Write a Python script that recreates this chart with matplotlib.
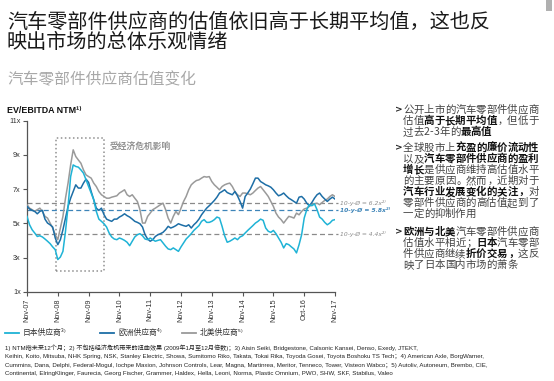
import matplotlib
matplotlib.use("Agg")
import matplotlib.pyplot as plt
from matplotlib.patches import Rectangle
from matplotlib.lines import Line2D
from matplotlib import font_manager

W, H = 554, 381
CJK = ['Noto Sans CJK SC', 'DejaVu Sans']
avail = {f.name for f in font_manager.fontManager.ttflist}
NARROW = 'Liberation Sans Narrow' if 'Liberation Sans Narrow' in avail else 'Liberation Sans'
plt.rcParams['font.family'] = ['Liberation Sans', 'Noto Sans CJK SC', 'DejaVu Sans']

# ---------------- data (monthly, Nov-07 .. Nov-17) ----------------
x_tick_labels = ["Nov-07", "Nov-08", "Nov-09", "Nov-10", "Nov-11", "Nov-12",
                 "Nov-13", "Nov-14", "Nov-15", "Oct-16", "Nov-17"]
y_ticks = [1, 3, 5, 7, 9, 11]

japan = [5.41, 4.92, 4.63, 4.44, 4.24, 4.28, 4.21, 4.09, 3.96, 3.82, 3.63, 3.47, 2.89, 3.04, 3.37,
         4.54, 5.99, 7.73, 8.41, 8.32, 8.28, 8.12, 7.93, 7.54, 7.15, 6.77, 6.38, 5.70, 5.25, 5.12,
         4.98, 4.79, 4.44, 4.21, 4.09, 4.05, 4.15, 4.09, 4.01, 3.90, 3.70, 3.96, 4.21, 4.34, 4.40,
         4.28, 4.09, 4.05, 4.15, 4.05, 3.96, 4.01, 4.05, 3.86, 3.67, 3.51, 3.47, 3.57, 3.47, 3.37,
         3.63, 3.86, 4.09, 4.24, 4.40, 4.59, 4.73, 4.87, 5.12, 5.22, 5.06, 5.06, 5.12, 5.22, 5.37,
         5.31, 4.83, 4.28, 3.90, 3.96, 4.05, 4.15, 4.05, 4.21, 4.28, 4.44, 4.59, 4.73, 4.87, 5.02,
         5.12, 5.25, 5.18, 4.73, 4.54, 4.48, 4.59, 4.40, 4.15, 3.90, 3.57, 3.82, 3.76, 3.63, 3.51,
         3.28, 3.76, 4.34, 5.31, 5.80, 6.09, 6.03, 6.14, 5.80, 5.37, 5.25, 5.06, 4.92, 5.02, 5.18,
         5.22]
europe = [5.99, 5.84, 5.76, 5.70, 5.56, 5.70, 5.76, 5.25, 5.02, 4.92, 4.79, 4.15, 3.76, 4.05, 4.63,
          5.31, 5.99, 6.47, 6.86, 7.25, 7.06, 7.06, 7.35, 7.58, 7.39, 6.86, 6.38, 5.89, 5.76, 5.89,
          5.51, 5.25, 5.18, 5.12, 5.25, 5.25, 5.37, 5.45, 5.56, 5.45, 5.37, 5.25, 5.12, 5.06, 4.98,
          4.79, 4.34, 4.09, 3.96, 4.05, 4.24, 4.34, 4.40, 4.48, 4.63, 4.83, 4.73, 4.79, 4.87, 4.98,
          4.92, 4.87, 4.83, 4.92, 4.73, 4.92, 5.06, 5.25, 5.50, 5.70, 5.89, 6.03, 6.18, 6.34, 6.53,
          6.77, 6.86, 6.96, 6.80, 6.73, 6.67, 6.86, 6.61, 6.28, 5.89, 6.57, 6.77, 7.00, 7.31, 7.64,
          7.64, 7.44, 7.35, 7.25, 7.19, 7.11, 6.96, 6.77, 6.61, 6.67, 6.77, 6.61, 6.47, 6.38, 6.28,
          6.18, 6.53, 6.57, 6.42, 6.18, 6.03, 6.22, 6.47, 6.67, 6.77, 6.57, 6.42, 6.28, 6.42, 6.53,
          6.42]
namerica = [6.09, 5.89, 5.80, 5.70, 5.80, 5.89, 5.70, 5.41, 5.31, 5.02, 4.73, 4.34, 4.05, 4.73, 5.41,
            6.47, 7.35, 8.41, 9.29, 8.90, 8.70, 8.51, 8.12, 7.83, 7.73, 7.64, 7.35, 7.15, 6.86, 6.67,
            6.57, 6.47, 6.47, 6.53, 6.57, 6.61, 6.77, 6.86, 6.96, 6.67, 6.57, 6.67, 6.47, 6.28, 5.80,
            5.02, 5.02, 5.41, 5.60, 5.80, 5.89, 5.99, 6.09, 6.18, 5.80, 5.31, 5.02, 5.41, 5.70, 5.51,
            5.89, 6.28, 6.57, 6.96, 7.25, 7.39, 7.50, 7.54, 7.64, 7.73, 7.70, 7.73, 7.44, 7.25, 7.11,
            6.96, 7.15, 7.25, 7.31, 7.35, 7.15, 6.86, 6.67, 6.57, 6.77, 6.77, 6.73, 6.67, 6.77, 6.92,
            7.06, 7.15, 6.96, 6.77, 6.57, 6.28, 5.99, 5.60, 5.37, 5.22, 5.02, 5.22, 5.41, 5.37, 5.31,
            5.60, 5.50, 5.70, 5.84, 5.89, 5.99, 6.09, 6.14, 6.18, 6.09, 6.22, 6.34, 6.42, 6.57, 6.67,
            6.57]
avg_values = [6.2, 5.8, 4.4]
avg_labels = ["10-y-Ø = 6.2x²⁾", "10-y-Ø = 5.8x²⁾", "10-y-Ø = 4.4x²⁾"]
series_names = ["日本供应商³⁾", "欧洲供应商⁴⁾", "北美供应商⁵⁾"]
crisis_start, crisis_end = 11.2, 30.0
crisis_low, crisis_high = 2.2, 10.0

C_JP = '#1fb3d6'
C_EU = '#1d6ea6'
C_NA = '#9a9a9a'
C_AVG_GRAY = '#8a8a8a'
C_AVG_BLUE = '#3d84b8'

months = list(range(len(japan)))

fig = plt.figure(figsize=(W / 100, H / 100), dpi=100)
fig.patch.set_facecolor('white')

def fx(px):
    return px / W

def fy(py):
    return 1 - py / H

ax = fig.add_axes([fx(27), fy(292), fx(335) - fx(27), fy(120.5) - fy(292)])
ax.plot(months, namerica, color=C_NA, lw=1.1, zorder=3)
ax.plot(months, europe, color=C_EU, lw=1.1, zorder=4)
ax.plot(months, japan, color=C_JP, lw=1.1, zorder=5)

avg_colors = [C_AVG_GRAY, C_AVG_BLUE, C_AVG_GRAY]
for v, lab, c in zip(avg_values, avg_labels, avg_colors):
    ax.plot([0, 121], [v, v], color=c, lw=0.9, ls=(0, (4, 2.5)), zorder=2, clip_on=False)
    ax.text(122, v, lab, fontsize=4.3, color=c, style='italic',
            fontweight='bold' if c == C_AVG_BLUE else 'normal',
            va='center', ha='left', clip_on=False, family=['DejaVu Sans'])

ax.add_patch(Rectangle((crisis_start, crisis_low), crisis_end - crisis_start,
                       crisis_high - crisis_low, fill=False, ec='#8f8f8f',
                       ls=':', lw=1.1, zorder=1))
ax.text(crisis_end + 2.2, 9.46, "受经济危机影响", fontsize=6.3, color='#929292',
        fontweight='bold', va='center', ha='left', family=CJK)

ax.set_xlim(0, 120)
ax.set_ylim(1, 11)
ax.set_xticks([i * 12 for i in range(len(x_tick_labels))])
ax.set_xticklabels(x_tick_labels, rotation=90, fontsize=5.2, color='#333333')
ax.set_yticks(y_ticks)
ax.set_yticklabels([f"{t}x" for t in y_ticks], fontsize=5.2, color='#333333')
for s in ['top', 'right']:
    ax.spines[s].set_visible(False)
for s in ['left', 'bottom']:
    ax.spines[s].set_color('#555555')
    ax.spines[s].set_linewidth(0.9)
ax.tick_params(axis='both', length=3, width=0.8, color='#555555', pad=1.5)

# ---------------- titles ----------------
fig.text(fx(7), fy(22), "汽车零部件供应商的估值依旧高于长期平均值，这也反",
         fontsize=14.5, color='#1a1a1a', va='center', ha='left', family=CJK)
fig.text(fx(7), fy(43), "映出市场的总体乐观情绪",
         fontsize=14.5, color='#1a1a1a', va='center', ha='left', family=CJK)
fig.text(fx(7), fy(80), "汽车零部件供应商估值变化",
         fontsize=11.3, color='#a8a8a8', va='center', ha='left', family=CJK)
fig.text(fx(7), fy(110), "EV/EBITDA NTM¹⁾", fontsize=6.4, fontweight='bold',
         color='#111111', va='center', ha='left', family=['Liberation Sans', 'DejaVu Sans'])

# small grey mark top-right
fig.add_artist(Rectangle((fx(546), fy(11)), fx(6), fy(0) - fy(11),
                         transform=fig.transFigure, color='#b0b0b0', lw=0))

# ---------------- legend ----------------
leg_items = [(5, C_JP, series_names[0]), (100, C_EU, series_names[1]), (182, C_NA, series_names[2])]
for x0, c, name in leg_items:
    fig.add_artist(Line2D([fx(x0), fx(x0 + 14)], [fy(333), fy(333)], color=c, lw=1.3,
                          transform=fig.transFigure))
    fig.text(fx(x0 + 18), fy(333), name, fontsize=5.6, color='#333333', va='center',
             ha='left', family=CJK)

renderer = fig.canvas.get_renderer()

# ---------------- footnotes ----------------
notes = [
    "1) NTM指未来12个月；2) 不包括经济危机带来的扭曲效果 (2009年1月至12月倍数)；3) Aisin Seiki, Bridgestone, Calsonic Kansei, Denso, Exedy, JTEKT,",
    "Keihin, Koito, Mitsuba, NHK Spring, NSK, Stanley Electric, Showa, Sumitomo Riko, Takata, Tokai Rika, Toyoda Gosei, Toyota Boshoku TS Tech；4) American Axle, BorgWarner,",
    "Cummins, Dana, Delphi, Federal-Mogul, Iochpe Maxion, Johnson Controls, Lear, Magna, Martinrea, Meritor, Tenneco, Tower, Visteon Wabco；5) Autoliv, Autoneum, Brembo, CIE,",
    "Continental, ElringKlinger, Faurecia, Georg Fischer, Grammer, Haldex, Hella, Leoni, Norma, Plastic Omnium, PWO, SHW, SKF, Stabilus, Valeo",
]
note_family = [NARROW, 'Noto Sans CJK SC', 'DejaVu Sans']
probe = fig.text(0, 0, notes[2], fontsize=5.0, family=note_family)
pw = probe.get_window_extent(renderer).width
probe.remove()
note_fs = 5.0 * 492.0 / pw
for i, line in enumerate(notes):
    fig.text(fx(5), fy(348 + i * 8.5), line, fontsize=note_fs, color='#222222', va='center',
             ha='left', family=note_family)

# ---------------- right-hand commentary (character grid layout) ----------------
N_COL = '#444444'
B_COL = '#111111'
FS = 7.5
EM = FS * 100 / 72.0          # px per full-width character
HALF = {'2': 0.56, '3': 0.56, '-': 0.36}
PUNCT = set('，；。')

def segs_line(x_px, y_px, segs):
    x = x_px
    for txt, bold in segs:
        for ch in txt:
            w = EM * HALF.get(ch, 1.0)
            kw = dict(fontsize=FS, va='center', fontweight='bold' if bold else 'normal',
                      color=B_COL if bold else N_COL, family=CJK)
            if ch in PUNCT:
                fig.text(fx(x + 0.12 * EM), fy(y_px), ch, ha='left', **kw)
            else:
                fig.text(fx(x + w / 2), fy(y_px), ch, ha='center', **kw)
            x += w

bullets = [
    (110, [
        [("公开上市的汽车零部件供应商", False)],
        [("估值", False), ("高于长期平均值", True), ("，但低于", False)],
        [("过去2-3年的", False), ("最高值", True)],
    ]),
    (148, [
        [("全球股市上", False), ("充盈的廉价流动性", True)],
        [("以及", False), ("汽车零部件供应商的盈利", True)],
        [("增长", True), ("是供应商维持高估值水平", False)],
        [("的主要原因。然而，近期对于", False)],
        [("汽车行业发展变化的关注，", True), ("对", False)],
        [("零部件供应商的高估值起到了", False)],
        [("一定的抑制作用", False)],
    ]),
    (232, [
        [("欧洲与北美", True), ("汽车零部件供应商", False)],
        [("估值水平相近；", False), ("日本", True), ("汽车零部", False)],
        [("件供应商继续", False), ("折价交易，", True), ("这反", False)],
        [("映了日本国内市场的萧条", False)],
    ]),
]
for y0, lines in bullets:
    fig.text(fx(395), fy(y0), ">", fontsize=6.5, fontweight='bold', color='#222222',
             va='center', ha='left', family=['DejaVu Sans'])
    for j, segs in enumerate(lines):
        segs_line(403, y0 + j * 11, segs)

fig.savefig("out.png", dpi=100, facecolor='white')
